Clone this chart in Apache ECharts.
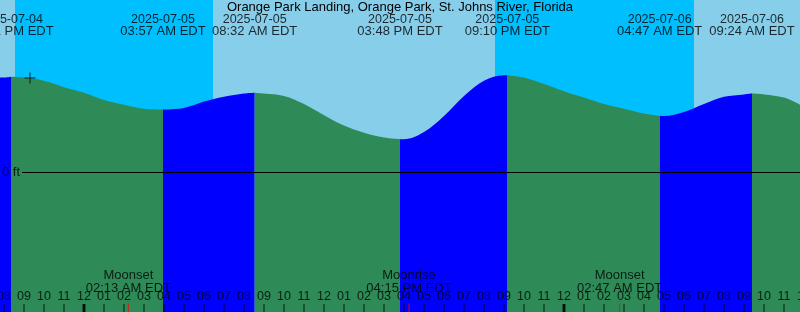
<!DOCTYPE html>
<html><head><meta charset="utf-8">
<script src="https://cdn.jsdelivr.net/npm/echarts@6/dist/echarts.min.js"></script>
<style>html,body{margin:0;padding:0;background:#87CEEB}#c{width:800px;height:312px}</style>
</head><body><div id="c"></div>
<script>
const chartTitle = 'Orange Park Landing, Orange Park, St. Johns River, Florida';
// hours relative to 2025-07-05 00:00 EDT
const curveHours = [-4.2,-4,-3.65,-3,-2,-1,0,1,2,3,3.95,5,6,7,8,8.533,9,10,11,12,13,14,15,15.8,16,17,18,19,20,21,21.167,22,23,24,25,26,27,28,28.783,29,30,31,32,33,33.4,34,35,35.8];
const curveFeet  = [1.18,1.18,1.19,1.18,1.14,1.06,0.99,0.90,0.84,0.79,0.78,0.80,0.88,0.94,0.98,0.99,0.98,0.95,0.85,0.71,0.58,0.49,0.43,0.41,0.41,0.50,0.70,0.95,1.14,1.21,1.21,1.18,1.10,1.01,0.93,0.85,0.79,0.73,0.70,0.70,0.75,0.85,0.94,0.97,0.98,0.97,0.93,0.84];
const extremeHours = [-3.65, 3.95, 8.533, 15.8, 21.167, 28.783, 33.4];
const extremeKinds = ['high','low','high','low','high','low','high'];
const extremeDates = ['2025-07-04','2025-07-05','2025-07-05','2025-07-05','2025-07-05','2025-07-06','2025-07-06'];
const extremeTimes = ['08:21 PM EDT','03:57 AM EDT','08:32 AM EDT','03:48 PM EDT','09:10 PM EDT','04:47 AM EDT','09:24 AM EDT'];
const nightStart = [-3.45, 20.55];
const nightEnd = [6.45, 30.5];
const moonHours = [2.217, 16.25, 26.783];
const moonEvents = ['Moonset','Moonrise','Moonset'];
const moonTimes = ['02:13 AM EDT','04:15 PM EDT','02:47 AM EDT'];
const hourTicks = [-4,-3,-2,-1,0,1,2,3,4,5,6,7,8,9,10,11,12,13,14,15,16,17,18,19,20,21,22,23,24,25,26,27,28,29,30,31,32,33,34,35,36];
const midnightHours = [0, 24];
const depthLabels = [0];
const nowMark = [-2.7, 1.175];

const X_MIN = -4.2, X_MAX = 35.8, Y_MIN = -1.75, Y_MAX = 2.15;
const FONT = 'Liberation Sans';

function isExtreme(h) { return extremeHours.some(e => Math.abs(e - h) < 1e-6); }
function isRising(h) {
  for (let i = 0; i < extremeHours.length; i++) {
    if (h < extremeHours[i]) return extremeKinds[i] === 'high';
  }
  return extremeKinds[extremeKinds.length - 1] === 'low';
}
function segData(wantRising) {
  const out = curveHours.map((h, i) =>
    (isExtreme(h) || isRising(h) === wantRising) ? [h, curveFeet[i]] : [h, null]);
  for (let i = 0; i < out.length; i++) {
    if (!isExtreme(curveHours[i])) continue;
    const prevOk = i > 0 && !isExtreme(curveHours[i-1]) && out[i-1][1] !== null;
    const nextOk = i < out.length-1 && !isExtreme(curveHours[i+1]) && out[i+1][1] !== null;
    if (!prevOk && !nextOk) out[i] = [curveHours[i], null];
  }
  return out;
}
function hourLabel(v) {
  const hh = ((Math.round(v) % 24) + 24) % 24;
  const h12 = hh % 12 === 0 ? 12 : hh % 12;
  return String(h12).padStart(2, '0');
}

const chart = echarts.init(document.getElementById('c'), null, {renderer: 'canvas'});
const areaSeries = (rising) => ({
  type: 'line', z: 3, smooth: 0.35, showSymbol: false, silent: true,
  data: segData(rising), connectNulls: false,
  lineStyle: {width: 0},
  itemStyle: {color: rising ? '#0000FF' : '#2E8B57'},
  areaStyle: {color: rising ? '#0000FF' : '#2E8B57', opacity: 1, origin: 'start'}
});

chart.setOption({
  animation: false,
  backgroundColor: '#87CEEB',
  textStyle: {fontFamily: FONT},
  title: {text: chartTitle, left: 'center', top: 0, padding: 0,
    textStyle: {fontFamily: FONT, fontSize: 13, fontWeight: 'normal', color: '#000', lineHeight: 14}},
  grid: {left: 0, right: 0, top: 0, bottom: 0, containLabel: false, outerBoundsMode: 'none'},
  xAxis: {
    type: 'value', min: X_MIN, max: X_MAX,
    axisLine: {show: false}, splitLine: {show: false}, axisTick: {show: false}, axisLabel: {show: false}
  },
  yAxis: {
    type: 'value', min: Y_MIN, max: Y_MAX,
    axisLine: {show: false}, splitLine: {show: false}, axisTick: {show: false}, axisLabel: {show: false}
  },
  series: [
    {type: 'line', z: 1, data: [], silent: true,
     markArea: {silent: true, itemStyle: {color: '#00BFFF', opacity: 1},
       data: nightStart.map((s, i) => [{xAxis: s}, {xAxis: nightEnd[i]}])}},
    areaSeries(true),
    areaSeries(false),
    {type: 'line', z: 5, data: [], silent: true,
     markLine: {silent: true, symbol: 'none', label: {show: false},
       lineStyle: {color: '#000', width: 1, type: 'solid'},
       data: [[{coord: [-3.1, depthLabels[0]]}, {coord: [X_MAX, depthLabels[0]]}]]}},
    // depth label
    {type: 'scatter', z: 7, silent: true, symbolSize: 0, clip: false,
     label: {show: true, position: 'right', distance: 2, formatter: p => p.value[1] + ' ft',
       fontFamily: FONT, fontSize: 13, color: '#000'},
     data: depthLabels.map(d => [X_MIN, d])},
    // hour ticks
    {type: 'scatter', z: 6, silent: true, clip: false, symbol: 'rect', symbolSize: [1, 16], itemStyle: {color: '#000'},
     label: {show: true, position: 'top', distance: 1, formatter: p => hourLabel(p.value[0]),
       fontFamily: FONT, fontSize: 12.5, lineHeight: 13, color: '#000'},
     data: hourTicks.map(h => [h, Y_MIN])},
    // midnight ticks
    {type: 'scatter', z: 6, silent: true, symbol: 'rect', symbolSize: [3, 16], itemStyle: {color: '#000'},
     data: midnightHours.map(h => [h, Y_MIN])},
    // moon ticks
    {type: 'scatter', z: 6, silent: true, symbol: 'rect', symbolSize: [1, 17], itemStyle: {color: '#FF0000'},
     data: moonHours.map(h => [h, Y_MIN])},
    {type: 'scatter', z: 7, silent: true, symbolSize: 0, clip: false,
     label: {show: true, position: 'top', distance: 17, formatter: p => moonEvents[p.dataIndex] + '\n' + moonTimes[p.dataIndex],
       fontFamily: FONT, fontSize: 13, lineHeight: 13, color: '#000', align: 'center'},
     data: moonHours.map(h => [h, Y_MIN])},
    {type: 'scatter', z: 7, silent: true, symbolSize: 0, clip: false,
     label: {show: true, position: 'bottom', distance: 13, align: 'center',
       formatter: p => '{d|' + extremeDates[p.dataIndex] + '}\n{t|' + extremeTimes[p.dataIndex] + '}',
       rich: {d: {fontFamily: FONT, fontSize: 12.5, lineHeight: 12.5, color: '#000'},
              t: {fontFamily: FONT, fontSize: 13, lineHeight: 12.5, color: '#000'}}},
     data: extremeHours.map(h => [h, Y_MAX])},
    {type: 'scatter', z: 8, silent: true, symbol: 'path://M0,5L11,5L11,6L0,6Z M5,0L6,0L6,11L5,11Z', symbolSize: 11,
     itemStyle: {color: '#000'}, data: [nowMark]}
  ]
});
</script></body></html>
